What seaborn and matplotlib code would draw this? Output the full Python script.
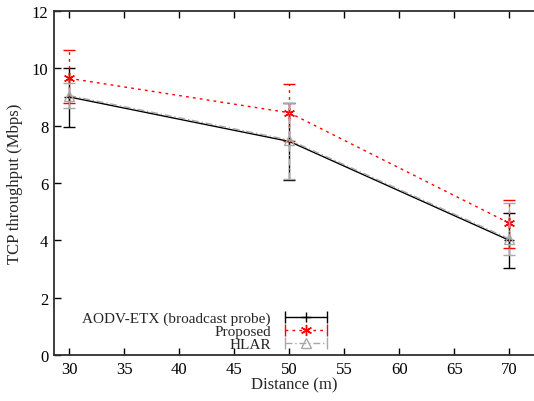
import matplotlib
matplotlib.use("Agg")
import matplotlib.pyplot as plt
from matplotlib.legend_handler import HandlerLine2D
import seaborn as sns
import pandas as pd
import numpy as np

# Throughput vs. distance for three routing schemes
distance = [30, 50, 70]

aodv_mean = [9.0, 7.45, 4.0]
aodv_low = [7.95, 6.1, 3.05]
aodv_high = [10.0, 8.8, 4.95]

proposed_mean = [9.65, 8.45, 4.6]
proposed_low = [8.8, 7.45, 3.75]
proposed_high = [10.65, 9.45, 5.42]

hlar_mean = [9.05, 7.5, 4.05]
hlar_low = [8.6, 6.15, 3.5]
hlar_high = [9.5, 8.8, 5.3]

series_names = ["AODV-ETX (broadcast probe)", "Proposed", "HLAR"]

x_ticks = [30, 35, 40, 45, 50, 55, 60, 65, 70]
y_ticks = [0, 2, 4, 6, 8, 10, 12]

sns.set_theme(style="ticks")
plt.rcParams["font.family"] = ["Liberation Serif", "DejaVu Serif"]

fig = plt.figure(figsize=(5.34, 4.02), dpi=100)
ax = fig.add_axes([54 / 534, 46 / 402, 1 - 54 / 534, (356 - 12) / 402])

df = pd.DataFrame({
    "Distance": distance * 3,
    "Throughput": aodv_mean + proposed_mean + hlar_mean,
    "Scheme": [series_names[0]] * 3 + [series_names[1]] * 3 + [series_names[2]] * 3,
})

asterisk = (6, 2, 0)
styles = {
    series_names[0]: dict(color="#000000", ls="-", marker="+", ms=7, lw=1.0),
    series_names[1]: dict(color="#ff0000", ls=(0, (2, 3)), marker=asterisk, ms=8, lw=1.0),
    series_names[2]: dict(color="#a8a8a8", ls=(0, (5, 2, 1, 2)), marker="^", ms=7, lw=1.0),
}
bounds = {
    series_names[0]: (aodv_mean, aodv_low, aodv_high),
    series_names[1]: (proposed_mean, proposed_low, proposed_high),
    series_names[2]: (hlar_mean, hlar_low, hlar_high),
}

handles = []
handler_map = {}
for z, name in enumerate(series_names):
    st = styles[name]
    sub = df[df["Scheme"] == name]
    sns.lineplot(data=sub, x="Distance", y="Throughput", ax=ax, color=st["color"],
                 linestyle=st["ls"], linewidth=st["lw"], marker=st["marker"],
                 markersize=st["ms"], markerfacecolor="none",
                 markeredgecolor=st["color"], markeredgewidth=1.0,
                 legend=False, zorder=3 + z)
    mean, low, high = bounds[name]
    yerr = [np.array(mean) - np.array(low), np.array(high) - np.array(mean)]
    cont = ax.errorbar(distance, mean, yerr=yerr, fmt="none", ecolor=st["color"],
                       elinewidth=1.0, capsize=4, capthick=1.0, zorder=3 + z)
    if name != series_names[0]:
        for bar in cont[2]:
            bar.set_linestyle(st["ls"])
    # legend sample: horizontal bar with end caps plus the point marker
    caps = plt.Line2D([], [], color=st["color"], linestyle=st["ls"], lw=st["lw"],
                      marker="|", ms=8, mew=1.0)
    mark = plt.Line2D([], [], color=st["color"], linestyle="none",
                      marker=st["marker"], ms=st["ms"], mfc="none",
                      mec=st["color"], mew=1.0)
    handler_map[caps] = HandlerLine2D(numpoints=2)
    handles.append((caps, mark))

ax.set_xlim(28.6, 30 + (534 - 69.3) / 11)
ax.set_ylim(0, 12)
ax.set_xticks(x_ticks)
ax.set_yticks(y_ticks)
ax.tick_params(direction="in", length=5, width=1.0, colors="#000000",
               labelsize=12, top=True, right=False, pad=4)
ax.set_xlabel("Distance (m)", fontsize=12, labelpad=0)
ax.set_ylabel("TCP throughput (Mbps)", fontsize=12, labelpad=6)
for side in ["left", "bottom", "top"]:
    ax.spines[side].set_linewidth(1.3)
    ax.spines[side].set_color("#303030")
ax.spines["right"].set_visible(False)

ax.legend(handles, series_names, handler_map=handler_map, numpoints=1,
          loc="lower left", bbox_to_anchor=(0.037, -0.02),
          frameon=False, markerfirst=False, fontsize=11, handlelength=3.4,
          labelspacing=-0.05, handletextpad=0.6, borderaxespad=0.3)

fig.savefig("out.png", dpi=100)
